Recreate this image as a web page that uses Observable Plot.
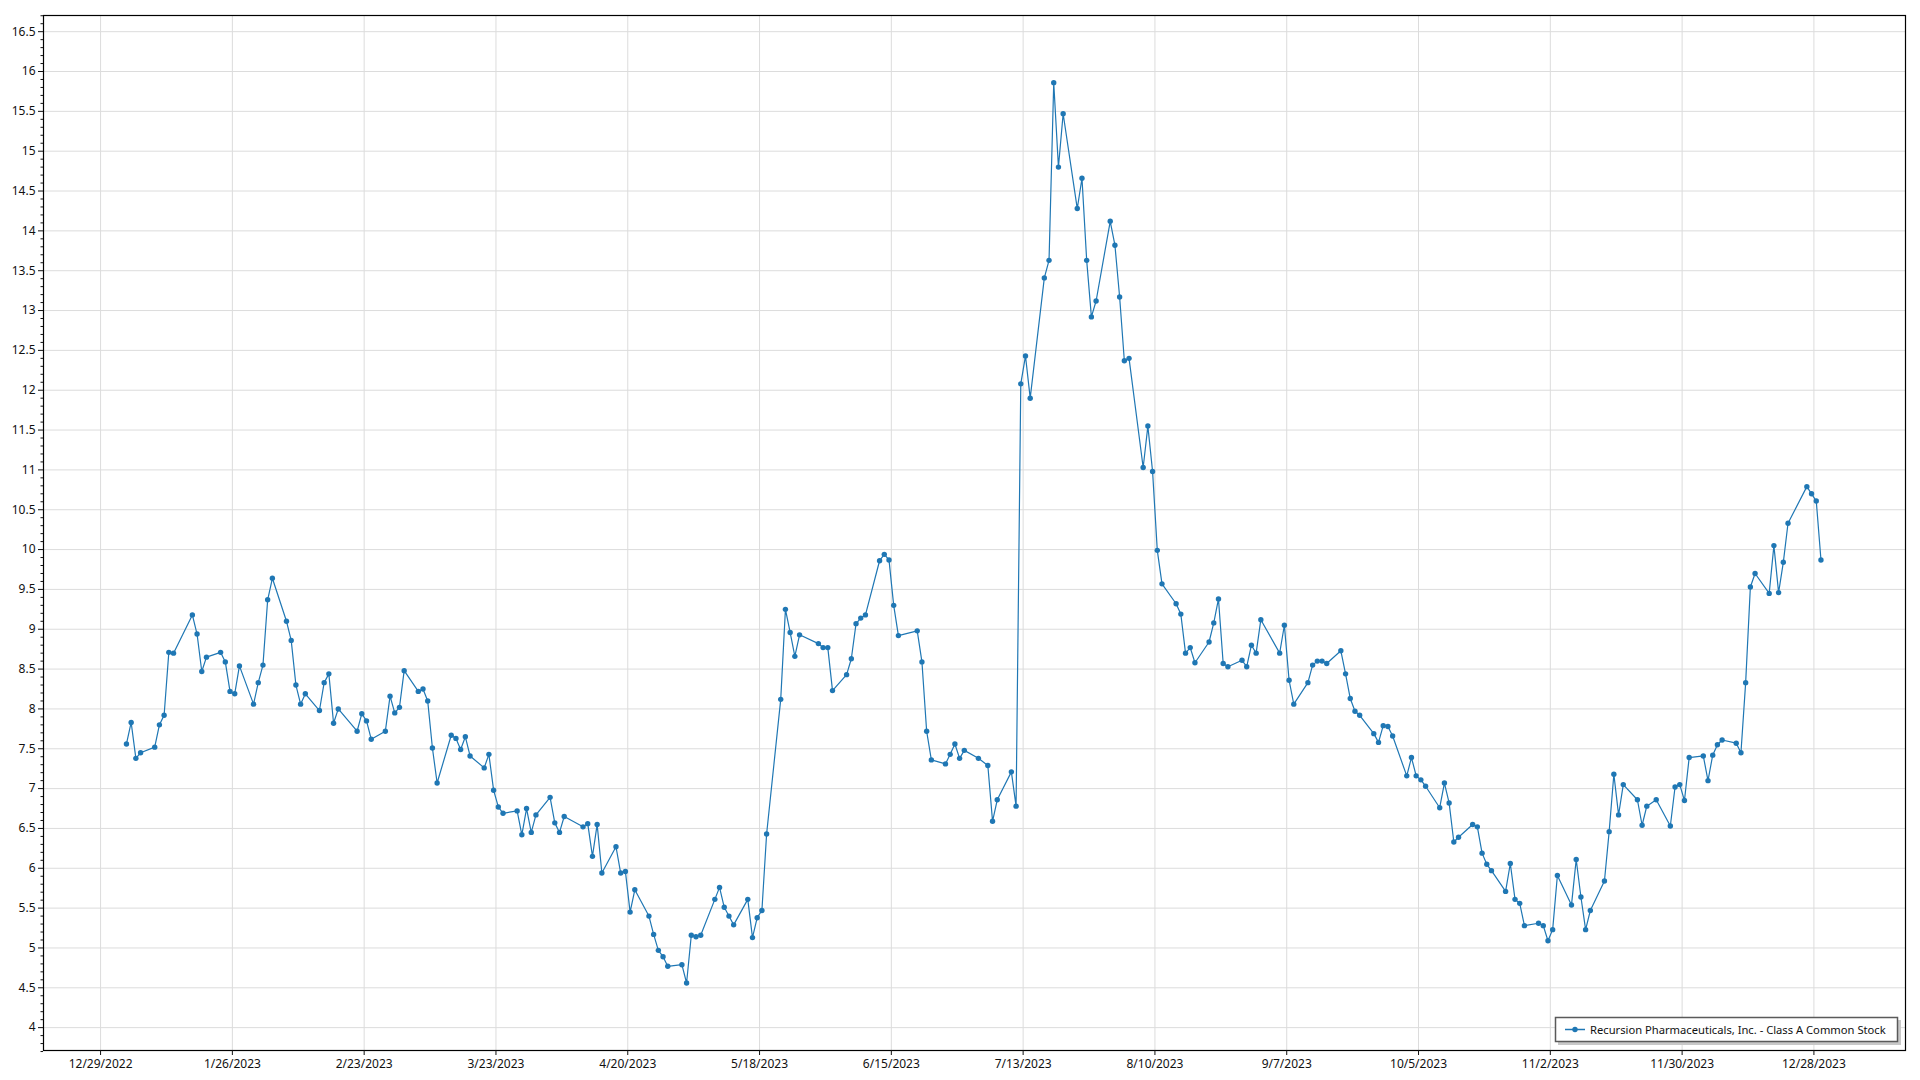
<!DOCTYPE html>
<html>
<head>
<meta charset="utf-8">
<script src="https://cdn.jsdelivr.net/npm/d3@7"></script>
<script src="https://cdn.jsdelivr.net/npm/@observablehq/plot@0.6"></script>
<style>
  html, body { margin: 0; padding: 0; background: #fff; overflow: hidden; }
  #wrap { position: relative; width: 1920px; height: 1080px; }
  #legend { position: absolute; left: 1552px; top: 1014px; }
</style>
</head>
<body>
<div id="wrap"></div>
<script>
// ---- data (2023 daily closes) ----
const seriesName = "Recursion Pharmaceuticals, Inc. - Class A Common Stock";
const year = 2023;

const dates = [
  "01-03","01-04","01-05","01-06","01-09","01-10","01-11","01-12","01-13","01-17","01-18","01-19","01-20","01-23","01-24","01-25","01-26","01-27","01-30","01-31",
  "02-01","02-02","02-03","02-06","02-07","02-08","02-09","02-10","02-13","02-14","02-15","02-16","02-17","02-21","02-22","02-23","02-24","02-27","02-28",
  "03-01","03-02","03-03","03-06","03-07","03-08","03-09","03-10","03-13","03-14","03-15","03-16","03-17","03-20","03-21","03-22","03-23","03-24","03-27","03-28","03-29","03-30","03-31",
  "04-03","04-04","04-05","04-06","04-10","04-11","04-12","04-13","04-14","04-17","04-18","04-19","04-20","04-21","04-24","04-25","04-26","04-27","04-28",
  "05-01","05-02","05-03","05-04","05-05","05-08","05-09","05-10","05-11","05-12","05-15","05-16","05-17","05-18","05-19","05-22","05-23","05-24","05-25","05-26","05-30","05-31",
  "06-01","06-02","06-05","06-06","06-07","06-08","06-09","06-12","06-13","06-14","06-15","06-16","06-20","06-21","06-22","06-23","06-26","06-27","06-28","06-29","06-30",
  "07-03","07-05","07-06","07-07","07-10","07-11","07-12","07-13","07-14","07-17","07-18","07-19","07-20","07-21","07-24","07-25","07-26","07-27","07-28","07-31",
  "08-01","08-02","08-03","08-04","08-07","08-08","08-09","08-10","08-11","08-14","08-15","08-16","08-17","08-18","08-21","08-22","08-23","08-24","08-25","08-28","08-29","08-30","08-31",
  "09-01","09-05","09-06","09-07","09-08","09-11","09-12","09-13","09-14","09-15","09-18","09-19","09-20","09-21","09-22","09-25","09-26","09-27","09-28","09-29",
  "10-02","10-03","10-04","10-05","10-06","10-09","10-10","10-11","10-12","10-13","10-16","10-17","10-18","10-19","10-20","10-23","10-24","10-25","10-26","10-27","10-30","10-31",
  "11-01","11-02","11-03","11-06","11-07","11-08","11-09","11-10","11-13","11-14","11-15","11-16","11-17","11-20","11-21","11-22","11-24","11-27","11-28","11-29","11-30",
  "12-01","12-04","12-05","12-06","12-07","12-08","12-11","12-12","12-13","12-14","12-15","12-18","12-19","12-20","12-21","12-22","12-26","12-27","12-28","12-29"
];

const closes = [
  7.56,7.83,7.38,7.45,7.52,7.80,7.92,8.71,8.70,9.18,8.94,8.47,8.65,8.71,8.59,8.22,8.19,8.54,8.06,8.33,
  8.55,9.37,9.64,9.10,8.86,8.30,8.06,8.19,7.98,8.33,8.44,7.82,8.00,7.72,7.94,7.85,7.62,7.72,8.16,
  7.95,8.02,8.48,8.22,8.25,8.10,7.51,7.07,7.67,7.63,7.49,7.65,7.41,7.26,7.43,6.98,6.77,6.69,6.72,6.42,6.75,6.45,6.67,
  6.89,6.57,6.45,6.65,6.52,6.56,6.15,6.55,5.94,6.27,5.94,5.96,5.45,5.73,5.40,5.17,4.97,4.89,4.77,
  4.79,4.56,5.16,5.14,5.16,5.61,5.76,5.51,5.40,5.29,5.61,5.13,5.38,5.47,6.43,8.12,9.25,8.96,8.66,8.93,8.82,8.77,
  8.77,8.23,8.43,8.63,9.07,9.14,9.18,9.86,9.94,9.87,9.30,8.92,8.98,8.59,7.72,7.36,7.31,7.43,7.56,7.38,7.48,
  7.38,7.29,6.59,6.86,7.21,6.78,12.08,12.43,11.90,13.41,13.63,15.86,14.80,15.47,14.28,14.66,13.63,12.92,13.12,14.12,
  13.82,13.17,12.37,12.40,11.03,11.55,10.98,9.99,9.57,9.32,9.19,8.70,8.77,8.58,8.84,9.08,9.38,8.57,8.53,8.61,8.53,8.80,8.70,
  9.12,8.70,9.05,8.36,8.06,8.33,8.55,8.60,8.60,8.57,8.73,8.44,8.13,7.97,7.92,7.69,7.58,7.79,7.78,7.66,
  7.16,7.39,7.16,7.11,7.03,6.76,7.07,6.82,6.33,6.39,6.55,6.52,6.19,6.05,5.97,5.71,6.06,5.61,5.56,5.28,5.31,5.28,
  5.09,5.23,5.91,5.54,6.11,5.64,5.23,5.47,5.84,6.46,7.18,6.67,7.05,6.86,6.54,6.78,6.86,6.53,7.02,7.05,6.85,
  7.39,7.41,7.10,7.42,7.55,7.61,7.57,7.45,8.33,9.53,9.70,9.45,10.05,9.46,9.84,10.33,10.79,10.70,10.61,9.87
];

const xTickDates = [
  "2022-12-29","2023-01-26","2023-02-23","2023-03-23","2023-04-20","2023-05-18","2023-06-15",
  "2023-07-13","2023-08-10","2023-09-07","2023-10-05","2023-11-02","2023-11-30","2023-12-28"
];

const yTicks = [4,4.5,5,5.5,6,6.5,7,7.5,8,8.5,9,9.5,10,10.5,11,11.5,12,12.5,13,13.5,14,14.5,15,15.5,16,16.5];

// ---- build ----
const data = dates.map((d, i) => ({date: new Date(`${year}-${d}T12:00:00Z`), close: closes[i]}));
const xTicks = xTickDates.map(s => new Date(s + "T00:00:00Z"));
const yMinor = d3.range(37, 168).map(i => i / 10).filter(v => Math.abs(v * 2 - Math.round(v * 2)) > 1e-6);
const fmtDate = d => `${d.getUTCMonth() + 1}/${d.getUTCDate()}/${d.getUTCFullYear()}`;
const blue = "#1f77b4";
const font = '"Segoe UI", "Noto Sans", sans-serif';

const chart = Plot.plot({
  width: 1920,
  height: 1080,
  marginLeft: 43,
  marginRight: 15,
  marginTop: 15,
  marginBottom: 30,
  style: {fontFamily: font, fontSize: "12px", color: "#111", background: "#fff", overflow: "visible"},
  x: {type: "utc", domain: [new Date(Date.UTC(2022, 11, 16, 21)), new Date(Date.UTC(2024, 0, 16, 11))]},
  y: {domain: [3.713, 16.703]},
  marks: [
    Plot.gridX(xTicks, {stroke: "#dcdcdc", strokeOpacity: 1}),
    Plot.gridY(yTicks, {stroke: "#dcdcdc", strokeOpacity: 1}),
    Plot.line(data, {x: "date", y: "close", stroke: blue, strokeWidth: 1.2}),
    Plot.dot(data, {x: "date", y: "close", r: 2.7, fill: blue, stroke: "none"}),
    Plot.frame({stroke: "#000", strokeWidth: 1.2}),
    Plot.axisY(yTicks, {tickSize: 5, tickPadding: 3, tickFormat: d => String(d), label: null}),
    Plot.axisY(yMinor, {tickSize: 2.5, fill: "none", label: null}),
    Plot.axisX(xTicks, {tickSize: 5, tickPadding: 4, tickFormat: fmtDate, label: null})
  ]
});

const wrap = document.getElementById("wrap");
wrap.appendChild(chart);

// legend box drawn as a small SVG overlay (bottom-right, inside the plot frame)
const legend = d3.select(wrap).append("svg")
  .attr("id", "legend").attr("width", 352).attr("height", 34);
legend.append("rect").attr("x", 6).attr("y", 6).attr("width", 343).attr("height", 25).attr("fill", "#c8c8c8");
legend.append("rect").attr("x", 3.5).attr("y", 3.5).attr("width", 342).attr("height", 24)
  .attr("fill", "#fff").attr("stroke", "#5a5a5a").attr("stroke-width", 1.5);
legend.append("line").attr("x1", 13).attr("x2", 33).attr("y1", 15.5).attr("y2", 15.5)
  .attr("stroke", blue).attr("stroke-width", 1.5);
legend.append("circle").attr("cx", 23).attr("cy", 15.5).attr("r", 2.7).attr("fill", blue);
legend.append("text").attr("x", 38).attr("y", 19.5)
  .attr("font-family", font).attr("font-size", 11.2).attr("fill", "#111")
  .text(seriesName);
</script>
</body>
</html>
